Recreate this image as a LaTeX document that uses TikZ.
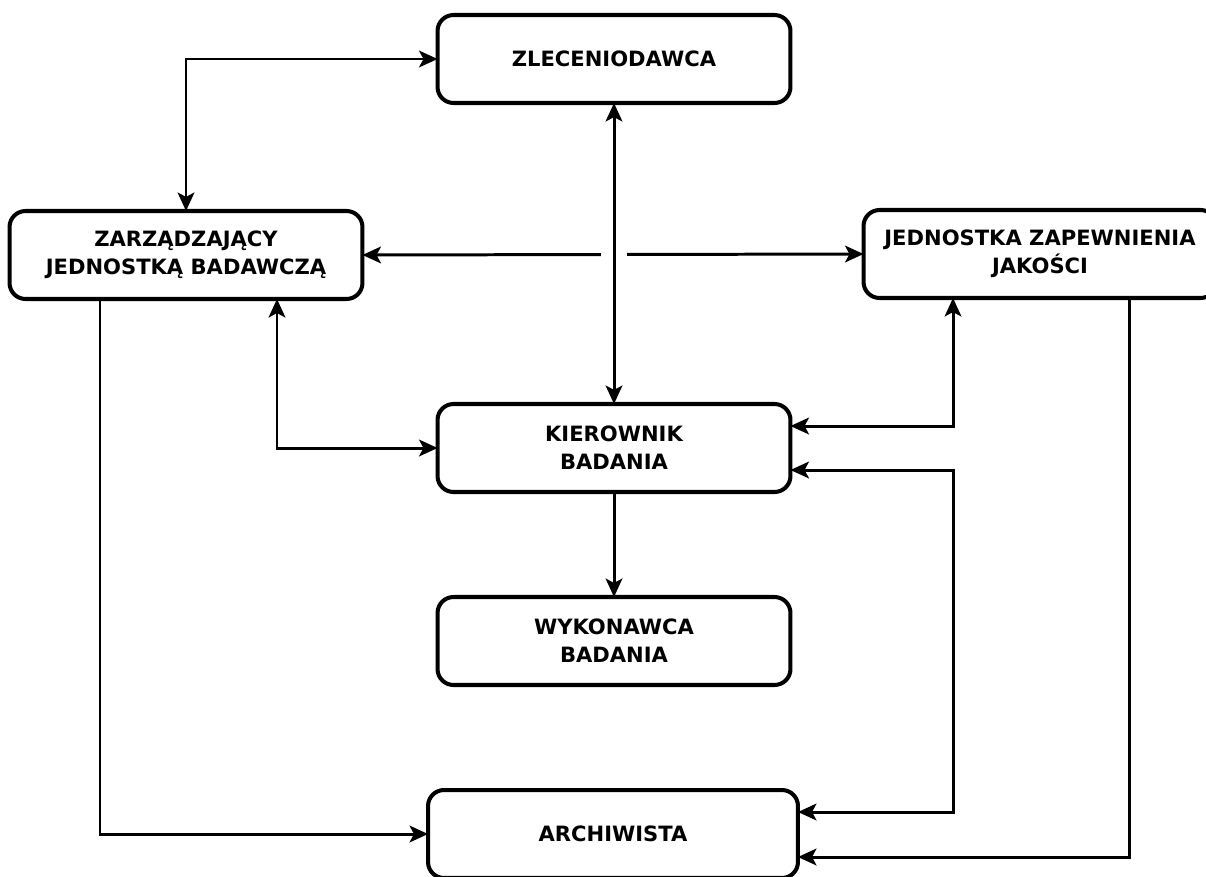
\documentclass[tikz,border=0pt]{standalone}
\usepackage{fontspec}
\setmainfont{DejaVu Sans}
\usetikzlibrary{arrows.meta}

\begin{document}
\begin{tikzpicture}
  [x=0.02cm, y=-0.02cm,
   box/.style={draw, line width=2.3pt, rounded corners=0.32cm, fill=white,
     outer sep=0pt, minimum width=7.06cm, minimum height=1.76cm, align=center,
     font=\fontsize{12}{16}\selectfont\bfseries},
   link/.style={line width=1.7pt, >={Stealth[length=10.5pt,width=9.5pt,inset=2.5pt]}}]
  \useasboundingbox (0,0) rectangle (1206,876);
  \node[box] (zlec) at (614,59) {ZLECENIODAWCA};
  \node[box] (zarz) at (186,255) {ZARZĄDZAJĄCY\\JEDNOSTKĄ BADAWCZĄ};
  \node[box] (jzj) at (1040,254) {JEDNOSTKA ZAPEWNIENIA\\JAKOŚCI};
  \node[box] (kier) at (614,448) {KIEROWNIK\\BADANIA};
  \node[box] (wyk) at (614,641) {WYKONAWCA\\BADANIA};
  \node[box, minimum width=7.4cm] (arch) at (613,834) {ARCHIWISTA};
  \draw[link,<->] (zarz.north) |- (zlec.west);
  \draw[link,<->] (zarz.east) -- (jzj.west);
  \fill[white] (601,245) rectangle (627,265);
  \draw[link,<->] (zlec) -- (kier);
  \draw[link,<->] (277,0 |- zarz.south) |- (kier.west);
  \draw[link,<->] (953,0 |- jzj.south) |- (kier.east |- 0,426);
  \draw[link,<->] (kier.east |- 0,470) -| (953,812) -- (arch.east |- 0,812);
  \draw[link,->] (kier) -- (wyk);
  \draw[link,->] (100,0 |- zarz.south) |- (arch.west);
  \draw[link,->] (1129,0 |- jzj.south) |- (arch.east |- 0,857);
\end{tikzpicture}
\end{document}
